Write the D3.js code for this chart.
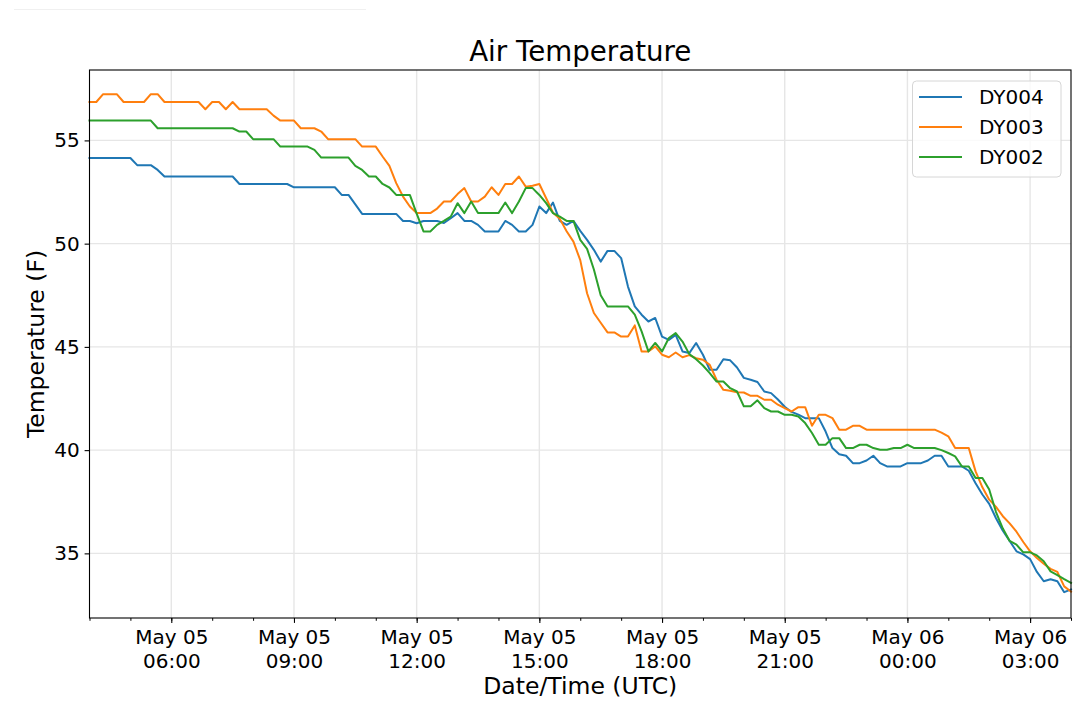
<!DOCTYPE html>
<html>
<head>
<meta charset="utf-8">
<script src="https://cdn.jsdelivr.net/npm/d3@7"></script>
<style>
body { margin: 0; background: #fff; }
text { font-family: "DejaVu Sans", sans-serif; }
</style>
</head>
<body>
<script>
// air temperature at three stations, 10 minute readings (F)
var startTime = "2019-05-05T04:00:00Z";
var stepMinutes = 10;

var seriesNames = ["DY004", "DY003", "DY002"];
var seriesColors = ["#1f77b4", "#ff7f0e", "#2ca02c"];

var dy004 = [
	54.15,54.15,54.15,54.15,54.15,54.15,54.15,
	53.80,53.80,53.80,
	53.57,
	53.25,53.25,53.25,53.25,53.25,53.25,53.25,53.25,53.25,53.25,53.25,
	52.89,52.89,52.89,52.89,52.89,52.89,52.89,52.89,
	52.73,52.73,52.73,52.73,52.73,52.73,52.73,
	52.36,52.36,51.90,
	51.44,51.44,51.44,51.44,51.44,51.44,
	51.10,51.10,50.99,51.10,51.10,51.10,
	51.00,51.23,51.48,51.10,51.10,50.91,
	50.59,50.59,50.59,51.10,50.91,50.59,50.59,50.91,
	51.80,51.48,51.99,51.10,50.91,51.10,
	50.62,50.18,49.70,49.13,49.65,49.65,49.30,47.92,
	46.96,46.56,46.23,46.40,45.50,45.34,45.58,44.78,44.70,45.19,
	44.62,43.89,43.89,44.40,44.35,44.00,43.50,43.41,43.30,42.84,
	42.76,42.45,42.10,41.85,41.72,41.55,41.55,41.55,40.90,40.10,
	39.80,39.73,39.37,39.37,39.50,39.73,39.37,39.21,39.21,39.21,
	39.37,39.37,39.37,39.50,39.73,39.73,39.21,39.21,39.21,39.00,
	38.40,37.85,37.40,36.70,36.10,35.60,35.10,34.95,34.72,34.10,
	33.65,33.75,33.65,33.12,33.25
];

var dy003 = [
	56.86,56.86,57.24,57.24,57.24,
	56.86,56.86,56.86,56.86,57.24,57.24,
	56.86,56.86,56.86,56.86,56.86,56.86,
	56.51,56.86,56.86,56.51,56.86,
	56.51,56.51,56.51,56.51,56.51,
	56.20,55.96,55.96,55.96,
	55.59,55.59,55.59,55.43,
	55.06,55.06,55.06,55.06,55.06,
	54.70,54.70,54.70,54.22,53.77,52.93,52.28,51.80,
	51.48,51.48,51.48,51.70,52.04,52.04,52.40,52.69,
	52.04,52.04,52.28,52.73,52.36,52.89,52.89,53.25,
	52.76,52.80,52.89,52.20,51.50,51.20,50.60,50.10,
	49.20,47.60,46.64,46.17,45.70,45.70,45.50,45.50,
	46.04,44.78,44.78,45.02,44.62,44.50,44.73,44.50,44.60,44.45,
	44.38,44.13,43.41,42.92,42.88,42.80,42.79,42.63,42.63,42.44,
	42.44,42.20,42.03,41.87,42.08,42.08,41.18,41.71,41.71,41.55,
	40.99,40.99,41.18,41.18,
	40.99,40.99,40.99,40.99,40.99,40.99,40.99,40.99,40.99,40.99,40.99,
	40.85,40.67,40.10,40.10,40.10,
	38.97,38.20,37.60,37.25,36.80,36.45,36.05,35.55,35.10,34.78,
	34.50,34.25,34.10,33.40,33.15
];

var dy002 = [
	55.96,55.96,55.96,55.96,55.96,55.96,55.96,55.96,55.96,55.96,
	55.59,55.59,55.59,55.59,55.59,55.59,55.59,55.59,55.59,55.59,55.59,55.59,
	55.43,55.43,
	55.06,55.06,55.06,55.06,
	54.70,54.70,54.70,54.70,54.70,
	54.54,
	54.17,54.17,54.17,54.17,54.17,
	53.77,53.57,53.25,53.25,52.89,52.72,52.36,52.36,52.36,
	51.45,50.59,50.59,50.91,51.10,51.31,51.96,51.48,
	52.04,51.48,51.48,51.48,51.48,51.99,51.48,52.04,
	52.69,52.69,52.36,51.96,51.48,51.31,51.10,51.10,
	50.18,49.75,48.75,47.50,46.96,46.96,46.96,46.96,
	46.56,45.75,44.78,45.19,44.78,45.43,45.67,45.26,44.65,44.40,
	44.10,43.73,43.32,43.32,43.00,42.84,42.12,42.12,42.41,42.03,
	41.87,41.87,41.71,41.71,41.63,41.31,40.83,40.26,40.26,40.58,
	40.58,40.10,40.10,40.26,40.26,40.10,40.02,40.02,40.10,40.10,
	40.26,40.10,40.10,40.10,40.10,40.00,39.86,39.70,39.21,39.21,
	38.65,38.65,38.09,37.00,36.20,35.60,35.42,35.05,35.05,34.90,
	34.62,34.13,33.95,33.75,33.57
];

var yTicks = [35, 40, 45, 50, 55];
var xTickTimes = [
	"2019-05-05T06:00:00Z", "2019-05-05T09:00:00Z", "2019-05-05T12:00:00Z",
	"2019-05-05T15:00:00Z", "2019-05-05T18:00:00Z", "2019-05-05T21:00:00Z",
	"2019-05-06T00:00:00Z", "2019-05-06T03:00:00Z"
];

var svg_width = 1080;
var svg_height = 719;
var margin = {top: 70, right: 9, bottom: 101, left: 89.5};
var width = svg_width - margin.left - margin.right;
var height = svg_height - margin.top - margin.bottom;

var svg = d3.select("body")
	.append("svg")
	.attr("width", svg_width)
	.attr("height", svg_height);

// faint stray rule at the top left of the figure
svg.append("line")
	.attr("x1", 14).attr("x2", 366)
	.attr("y1", 9.5).attr("y2", 9.5)
	.attr("stroke", "#f0f0f0")
	.attr("stroke-width", 1);

var g = svg.append("g").attr("transform", "translate(" + margin.left + "," + margin.top + ")");

var t0 = new Date(startTime);
var times = dy004.map(function(d, i) { return new Date(t0.getTime() + i * stepMinutes * 60000); });
var series = [dy004, dy003, dy002];

var xScale = d3.scaleUtc()
	.domain([times[0], times[times.length - 1]])
	.range([0, width]);

var yScale = d3.scaleLinear()
	.domain([31.87, 58.41])
	.range([height, 0]);

var xTicks = xTickTimes.map(function(s) { return new Date(s); });

// grid
g.append("g")
	.selectAll("line")
	.data(xTicks)
	.enter().append("line")
	.attr("x1", function(d) { return xScale(d); })
	.attr("x2", function(d) { return xScale(d); })
	.attr("y1", 0).attr("y2", height)
	.attr("stroke", "#e6e6e6")
	.attr("stroke-width", 1.4);

g.append("g")
	.selectAll("line")
	.data(yTicks)
	.enter().append("line")
	.attr("x1", 0).attr("x2", width)
	.attr("y1", function(d) { return yScale(d); })
	.attr("y2", function(d) { return yScale(d); })
	.attr("stroke", "#e6e6e6")
	.attr("stroke-width", 1.4);

// lines
var line = d3.line()
	.x(function(d, i) { return xScale(times[i]); })
	.y(function(d) { return yScale(d); });

g.append("g")
	.selectAll("path")
	.data(series)
	.enter().append("path")
	.attr("d", line)
	.attr("fill", "none")
	.attr("stroke", function(d, i) { return seriesColors[i]; })
	.attr("stroke-width", 2)
	.attr("stroke-linejoin", "round")
	.attr("stroke-linecap", "square");

// minor x ticks every hour
var minorTicks = d3.utcHour.range(times[0], new Date(times[times.length - 1].getTime() + 1));
g.append("g")
	.attr("transform", "translate(0," + height + ")")
	.call(d3.axisBottom(xScale).tickValues(minorTicks).tickSize(2.8).tickFormat(""))
	.call(function(a) { a.select(".domain").remove(); a.selectAll("line").attr("stroke", "#000"); });

// major x axis with two line labels
var fmtDay = d3.utcFormat("%b %d");
var fmtHour = d3.utcFormat("%H:%M");
var xAxis = g.append("g")
	.attr("transform", "translate(0," + height + ")")
	.call(d3.axisBottom(xScale).tickValues(xTicks).tickSize(4.9).tickPadding(4.9).tickFormat(""));
xAxis.select(".domain").remove();
xAxis.selectAll(".tick line").attr("stroke", "#000").attr("stroke-width", 1.1);
xAxis.selectAll(".tick text").remove();
xAxis.selectAll(".tick")
	.append("text")
	.attr("fill", "#000")
	.attr("font-size", 20)
	.attr("text-anchor", "middle")
	.each(function(d) {
		var t = d3.select(this);
		t.append("tspan").attr("x", 0).attr("y", 26.3).text(fmtDay(d));
		t.append("tspan").attr("x", 0).attr("y", 50.3).text(fmtHour(d));
	});

// y axis
var yAxis = g.append("g")
	.call(d3.axisLeft(yScale).tickValues(yTicks).tickSize(4.9).tickPadding(4.9));
yAxis.select(".domain").remove();
yAxis.selectAll(".tick line").attr("stroke", "#000").attr("stroke-width", 1.1);
yAxis.selectAll(".tick text")
	.attr("fill", "#000")
	.attr("font-size", 20)
	.attr("font-family", "DejaVu Sans, sans-serif");

// frame
g.append("rect")
	.attr("x", 0).attr("y", 0)
	.attr("width", width).attr("height", height)
	.attr("fill", "none")
	.attr("stroke", "#000")
	.attr("stroke-width", 1.1);

// title
svg.append("text")
	.attr("x", margin.left + width / 2)
	.attr("y", 61)
	.attr("text-anchor", "middle")
	.attr("font-size", 27.7)
	.attr("fill", "#000")
	.text("Air Temperature");

// x axis title
svg.append("text")
	.attr("x", margin.left + width / 2)
	.attr("y", 694)
	.attr("text-anchor", "middle")
	.attr("font-size", 23.5)
	.attr("fill", "#000")
	.text("Date/Time (UTC)");

// y axis title
svg.append("text")
	.attr("transform", "translate(44," + (margin.top + height / 2) + ") rotate(-90)")
	.attr("text-anchor", "middle")
	.attr("font-size", 23.5)
	.attr("fill", "#000")
	.text("Temperature (F)");

// legend
var legend = svg.append("g");
legend.append("rect")
	.attr("x", 912.5).attr("y", 81)
	.attr("width", 148.5).attr("height", 96)
	.attr("rx", 4)
	.attr("fill", "#fff")
	.attr("fill-opacity", 0.8)
	.attr("stroke", "#d6d6d6")
	.attr("stroke-width", 1);

var items = legend.selectAll(".item")
	.data(seriesNames)
	.enter().append("g")
	.attr("class", "item")
	.attr("transform", function(d, i) { return "translate(0," + (97 + i * 30) + ")"; });

items.append("line")
	.attr("x1", 919).attr("x2", 962)
	.attr("y1", 0).attr("y2", 0)
	.attr("stroke", function(d, i) { return seriesColors[i]; })
	.attr("stroke-width", 2);

items.append("text")
	.attr("x", 979)
	.attr("y", 7.3)
	.attr("font-size", 20)
	.attr("fill", "#000")
	.text(function(d) { return d; });
</script>
</body>
</html>
